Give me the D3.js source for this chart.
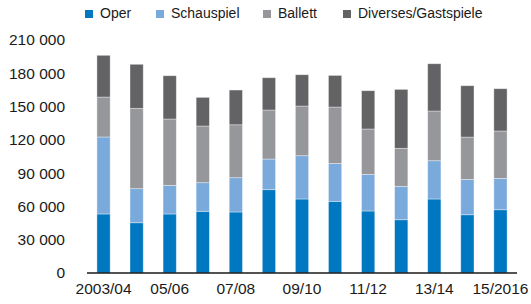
<!DOCTYPE html>
<html>
<head>
<meta charset="utf-8">
<script src="https://cdn.jsdelivr.net/npm/d3@7"></script>
<style>
	body { margin: 0; background: #fff; }
	svg { display: block; font-family: "Liberation Sans", Arial, sans-serif; }
</style>
</head>
<body>
<svg id="chart" width="531" height="304"></svg>
<script>
const seasons = ["2003/04", "04/05", "05/06", "06/07", "07/08", "08/09", "09/10",
	"10/11", "11/12", "12/13", "13/14", "14/15", "15/2016"];
const oper = [53200, 45300, 53200, 55600, 55000, 75100, 66700, 64600, 55900, 48000, 66700, 52500, 57000];
const schauspiel = [69400, 30700, 25800, 25800, 30900, 27600, 39000, 34200, 33000, 30100, 34500, 31900, 28300];
const ballett = [36000, 72400, 59800, 51100, 47700, 44200, 44800, 50800, 40900, 34300, 44800, 38100, 42700];
const diverses = [37600, 39700, 39000, 25800, 31300, 29100, 28200, 28500, 34500, 53100, 42600, 46300, 38100];
const seriesNames = ["Oper", "Schauspiel", "Ballett", "Diverses/Gastspiele"];
const colors = ["#0077c1", "#7aaadc", "#96979b", "#636365"];
const yTicks = [0, 30000, 60000, 90000, 120000, 150000, 180000, 210000];
const xLabels = ["2003/04", "05/06", "07/08", "09/10", "11/12", "13/14", "15/2016"];

const svg = d3.select("#chart");
const plotLeft = 87, plotRight = 517, plotTop = 40, plotBottom = 273;

const rows = seasons.map((s, i) => ({
	season: s,
	"Oper": oper[i],
	"Schauspiel": schauspiel[i],
	"Ballett": ballett[i],
	"Diverses/Gastspiele": diverses[i]
}));
const stacked = d3.stack().keys(seriesNames)(rows);

const x = d3.scaleBand().domain(seasons).range([plotLeft, plotRight]).paddingInner(0.6).paddingOuter(0.3);
const y = d3.scaleLinear().domain([0, 210000]).range([plotBottom, plotTop]);
const color = d3.scaleOrdinal().domain(seriesNames).range(colors);

// bars
svg.append("g")
	.selectAll("g")
	.data(stacked).enter()
	.append("g")
	.attr("fill", d => color(d.key))
	.selectAll("rect")
	.data(d => d).enter()
	.append("rect")
	.attr("x", d => x(d.data.season))
	.attr("width", x.bandwidth())
	.attr("y", d => y(d[1]))
	.attr("height", d => y(d[0]) - y(d[1]))
	.attr("stroke", "rgba(255,255,255,0.45)")
	.attr("stroke-width", 0.8);

// y axis labels
const fmt = v => d3.format(",")(v).replace(/,/g, " ");
const yAxis = svg.append("g")
	.attr("transform", `translate(${plotLeft},0)`)
	.call(d3.axisLeft(y).tickValues(yTicks).tickFormat(fmt).tickSize(0).tickPadding(22));
yAxis.select(".domain").remove();
yAxis.selectAll("text")
	.attr("font-size", 15.5)
	.attr("font-family", "Liberation Sans, Arial, sans-serif")
	.attr("fill", "#1a1a1a");

// x axis
const xAxis = svg.append("g")
	.attr("transform", `translate(0,${plotBottom})`)
	.call(d3.axisBottom(x).tickValues(xLabels).tickSize(0).tickPadding(10));
xAxis.select(".domain")
	.attr("stroke", "#1a1a1a")
	.attr("stroke-width", 1.5)
	.attr("d", `M${plotLeft},0H${plotRight}`);
xAxis.selectAll("text")
	.attr("font-size", 15.5)
	.attr("font-family", "Liberation Sans, Arial, sans-serif")
	.attr("fill", "#1a1a1a");

// legend
const legendX = [85, 156, 263, 343];
const legend = svg.append("g")
	.selectAll("g")
	.data(seriesNames).enter()
	.append("g")
	.attr("transform", (d, i) => `translate(${legendX[i]},9)`);
legend.append("rect")
	.attr("width", 8)
	.attr("height", 8)
	.attr("y", 1)
	.attr("fill", d => color(d));
legend.append("text")
	.attr("x", 15)
	.attr("y", 5)
	.attr("dy", "0.32em")
	.attr("font-size", 14)
	.attr("fill", "#1a1a1a")
	.text(d => d);
</script>
</body>
</html>
